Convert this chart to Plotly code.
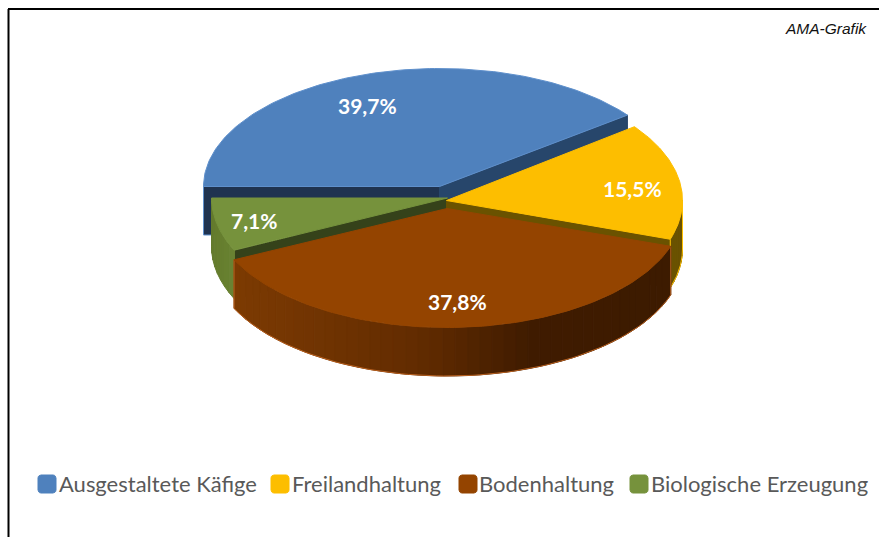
import numpy as np
import plotly.graph_objects as go

# --- data ---
categories = ["Ausgestaltete Käfige", "Freilandhaltung", "Bodenhaltung", "Biologische Erzeugung"]
shares = [39.7, 15.5, 37.8, 7.1]
value_labels = ["39,7%", "15,5%", "37,8%", "7,1%"]

# --- style ---
colors = ["#4f81bd", "#fdbe00", "#944400", "#76923c"]
FIRST_ANGLE = 180.0
RX = 236.0
DEPTH = 48.5
centers = [(439.5, 186.5), (446.5, 200.5), (447, 208.5), (447.5, 198)]
ry_values = [118, 122, 119, 122]
draw_order = [0, 3, 1, 2]
start_wall = ["#1f3350", None, None, "#35421a"]
end_wall = ["#27466b", "#6a5200", None, None]
start_wall_edge = ["#5f90cc", None, None, None]
edge = ["#5f90cc", "#fdbe00", "#944400", "#76923c"]
rim_edge = [None, "#ffc000", "#b8601f", None]
label_frac = [(0.95, 0.72), (0.80, 0.60), (0.70, 0.785), (0.84, 0.85)]
swatch_left = [38, 271, 459, 630]
text_left = [59, 292, 479, 651]
LEGEND_Y = 483


def blend(stops, t):
    xs = [s[0] for s in stops]
    rgb = [np.interp(t, xs, [int(s[1][i:i + 2], 16) for s in stops]) for i in (1, 3, 5)]
    return "rgb(%d,%d,%d)" % tuple(rgb)


wall_ramp = [
    [(0, "#6a5200"), (1, "#6a5200")],
    [(0, "#6a5200"), (1, "#6a5200")],
    [(0, "#7d3b03"), (0.42, "#632c01"), (0.68, "#401c00"), (1, "#3d1b00")],
    [(0, "#647b2d"), (1, "#6a8333")],
]

fig = go.Figure()


def poly(x, y, fill, line=None, name=None):
    fig.add_trace(go.Scatter(
        x=list(x), y=list(y), mode="lines", fill="toself", fillcolor=fill,
        line=dict(color=line or fill, width=1), hoverinfo="skip",
        showlegend=False, name=name))


total = sum(shares)
spans = [v / total * 360 for v in shares]
starts = [FIRST_ANGLE - sum(spans[:i]) for i in range(len(spans))]

for i in draw_order:
    cx, cy = centers[i]
    ry = ry_values[i]
    a0 = starts[i]
    a1 = a0 - spans[i]
    px = lambda a: cx + RX * np.cos(np.radians(a))
    py = lambda a: cy - ry * np.sin(np.radians(a))
    for ang, col, ln in ((a0, start_wall[i], start_wall_edge[i]), (a1, end_wall[i], None)):
        if col:
            poly([cx, px(ang), px(ang), cx, cx],
                 [cy, py(ang), py(ang) + DEPTH, cy + DEPTH, cy], col, ln)
    # outer wall: only the part of the rim that faces the viewer
    lo, hi = max(a1, -180), min(a0, 0)
    if hi > lo:
        steps = max(int((hi - lo) / 3), 1)
        grid = np.linspace(lo, hi, steps + 1)
        x_left, x_right = min(px(lo), px(hi)), max(px(lo), px(hi))
        for b0, b1 in zip(grid[:-1], grid[1:]):
            aa = np.linspace(b0, b1, 4)
            xs = px(aa)
            ys = py(aa)
            t = (px((b0 + b1) / 2) - x_left) / (x_right - x_left)
            poly(list(xs) + list(xs[::-1]) + [xs[0]],
                 list(ys) + list((ys + DEPTH)[::-1]) + [ys[0]],
                 blend(wall_ramp[i], t))
        if rim_edge[i]:
            aa = np.linspace(lo, hi, 80)
            fig.add_trace(go.Scatter(
                x=[px(lo)] + list(px(aa)) + [px(hi)],
                y=[py(lo)] + list(py(aa) + DEPTH) + [py(hi)],
                mode="lines", line=dict(color=rim_edge[i], width=1),
                hoverinfo="skip", showlegend=False))
    aa = np.linspace(a0, a1, 120)
    poly([cx] + list(px(aa)) + [cx], [cy] + list(py(aa)) + [cy], colors[i], edge[i], categories[i])

annotations = []
for i, lab in enumerate(value_labels):
    cx, cy = centers[i]
    mid = np.radians(starts[i] - spans[i] / 2)
    fx, fy = label_frac[i]
    annotations.append(dict(
        x=cx + fx * RX * np.cos(mid), y=cy - fy * ry_values[i] * np.sin(mid),
        xref="x", yref="y", text=lab, showarrow=False,
        font=dict(family="Lato", size=21, color="white", weight="bold")))

# legend
for i, cat in enumerate(categories):
    s = 18
    r = 3
    x0 = swatch_left[i]
    y0 = LEGEND_Y + 1 - s / 2
    corners = [(x0 + s - r, y0 + r, 90), (x0 + r, y0 + r, 180), (x0 + r, y0 + s - r, 270), (x0 + s - r, y0 + s - r, 360)]
    xs, ys = [], []
    for ccx, ccy, end in corners:
        th = np.radians(np.arange(end - 90, end + 1, 15))
        xs += list(ccx + r * np.cos(th))
        ys += list(ccy - r * np.sin(th))
    poly(xs + xs[:1], ys + ys[:1], colors[i], None, cat)
    annotations.append(dict(
        x=text_left[i], y=LEGEND_Y, xref="x", yref="y", xanchor="left", yanchor="middle",
        text=cat, showarrow=False, xshift=-2,
        font=dict(family="Lato", size=22, color="#595959")))

annotations.append(dict(
    x=867, y=28, xref="x", yref="y", xanchor="right", yanchor="middle",
    text="<i>AMA-Grafik</i>", showarrow=False, xshift=2,
    font=dict(family="Liberation Sans", size=15.5, color="#111111")))

fig.update_layout(
    width=879, height=537, margin=dict(l=0, r=0, t=0, b=0),
    paper_bgcolor="white", plot_bgcolor="white", showlegend=False,
    xaxis=dict(range=[0, 879], visible=False, fixedrange=True),
    yaxis=dict(range=[537, 0], visible=False, fixedrange=True),
    annotations=annotations,
    shapes=[
        dict(type="line", xref="x", yref="y", x0=8, x1=879, y0=9, y1=9, line=dict(color="black", width=2)),
        dict(type="line", xref="x", yref="y", x0=8.5, x1=8.5, y0=9, y1=537, line=dict(color="black", width=2)),
    ],
)
fig.write_html("out.html", config={"displayModeBar": False},
               post_script="document.body.style.margin='0';document.documentElement.style.overflow='hidden';")
